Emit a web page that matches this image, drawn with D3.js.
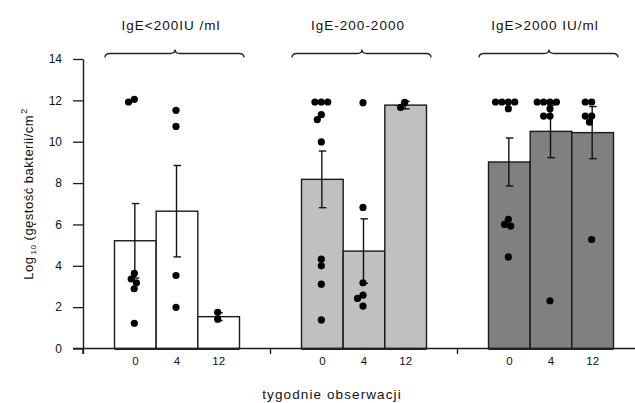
<!DOCTYPE html>
<html><head><meta charset="utf-8">
<script src="https://cdn.jsdelivr.net/npm/d3@7"></script>
<style>
body{margin:0;background:#fff}
svg{display:block}
text{font-family:"Liberation Sans",Arial,sans-serif;fill:#111}
</style>
</head><body>
<svg id="chart" width="635" height="403"></svg>
<script>
// ---------- data ----------
const groups = ["IgE<200IU /ml", "IgE-200-2000", "IgE>2000 IU/ml"];
const weeks = ["0", "4", "12"];
const yTicks = [0, 2, 4, 6, 8, 10, 12, 14];
const meansLow  = [5.21, 6.64, 1.54];
const meansMid  = [8.18, 4.71, 11.77];
const meansHigh = [9.02, 10.50, 10.44];
const semLow  = [1.80, 2.21, 0.19];
const semMid  = [1.37, 1.56, 0.18];
const semHigh = [1.16, 1.27, 1.26];
const pointsLow = [
  [12.05, 11.92, 3.63, 3.36, 3.18, 2.89, 1.22],
  [11.52, 10.74, 3.53, 1.99],
  [1.75, 1.42]
];
const pointsMid = [
  [11.92, 11.92, 11.92, 11.31, 11.07, 9.99, 4.32, 4.00, 3.11, 1.38],
  [11.89, 6.82, 3.18, 2.58, 2.42, 2.05],
  [11.90, 11.66]
];
const pointsHigh = [
  [11.92, 11.92, 11.92, 11.92, 11.60, 6.25, 6.00, 5.92, 4.43],
  [11.92, 11.92, 11.92, 11.92, 11.60, 11.24, 11.24, 2.31],
  [11.92, 11.92, 11.24, 11.24, 10.95, 5.27]
];
const xTitle = "tygodnie obserwacji";

const means = [meansLow, meansMid, meansHigh];
const sems = [semLow, semMid, semHigh];
const points = [pointsLow, pointsMid, pointsHigh];
const fills = ["#ffffff", "#c0c0c0", "#808080"];

// ---------- scales ----------
const svg = d3.select("#chart");
const x = d3.scaleBand().domain(groups).range([83.5, 644.5]).padding(0);
const xi = d3.scaleBand().domain(weeks).range([0, x.bandwidth()]).paddingInner(0).paddingOuter(0.744);
const y = d3.scaleLinear().domain([0, 14]).range([348.5, 59]);

const rows = [];
groups.forEach((g, gi) => weeks.forEach((w, wi) => rows.push({
  g, gi, w, wi, mean: means[gi][wi], sem: sems[gi][wi], pts: points[gi][wi]
})));

// ---------- bars ----------
svg.append("g").selectAll("rect").data(rows).join("rect")
  .attr("x", d => x(d.g) + xi(d.w))
  .attr("y", d => y(d.mean))
  .attr("width", xi.bandwidth())
  .attr("height", d => y(0) - y(d.mean))
  .attr("fill", d => fills[d.gi])
  .attr("stroke", "#1a1a1a")
  .attr("stroke-width", 1.4);

// ---------- axes ----------
const stroke = "#1a1a1a";
svg.append("line").attr("x1", 73).attr("x2", 635).attr("y1", y(0)).attr("y2", y(0))
  .attr("stroke", stroke).attr("stroke-width", 1.4);
svg.append("g").selectAll("line").data(rows).join("line")
  .attr("x1", d => x(d.g) + xi(d.w)).attr("x2", d => x(d.g) + xi(d.w) + xi.bandwidth())
  .attr("y1", y(0) + 0.5).attr("y2", y(0) + 0.5)
  .attr("stroke", "#222").attr("stroke-width", 2.2);
svg.append("g").selectAll("line").data(groups).join("line")
  .attr("x1", d => x(d)).attr("x2", d => x(d))
  .attr("y1", y(0)).attr("y2", y(0) + 5.5)
  .attr("stroke", stroke).attr("stroke-width", 1.3);

const yAxis = svg.append("g").attr("transform", `translate(${x.range()[0] - 0.5},0)`)
  .call(d3.axisLeft(y).tickValues(yTicks).tickSize(10).tickSizeOuter(0).tickPadding(11));
yAxis.select(".domain").attr("stroke", stroke).attr("stroke-width", 1.4);
yAxis.selectAll(".tick line").attr("stroke", stroke).attr("stroke-width", 1.3);
yAxis.selectAll("text").attr("font-size", 12).attr("fill", "#111")
  .attr("font-family", '"Liberation Sans",Arial,sans-serif');
svg.append("line").attr("x1", x.range()[0] - 0.5).attr("x2", x.range()[0] - 0.5)
  .attr("y1", y(0)).attr("y2", y(0) + 5.5).attr("stroke", stroke).attr("stroke-width", 1.4);

groups.forEach(g => {
  const ax = svg.append("g").attr("transform", `translate(${x(g)},${y(0)})`)
    .call(d3.axisBottom(xi).tickSize(0).tickPadding(8));
  ax.select(".domain").remove();
  ax.selectAll("text").attr("font-size", 11.5).attr("fill", "#111")
    .attr("font-family", '"Liberation Sans",Arial,sans-serif');
});

// ---------- error bars ----------
const eb = svg.append("g").attr("stroke", "#111").attr("stroke-width", 1.4);
rows.forEach(d => {
  const cx = x(d.g) + xi(d.w) + xi.bandwidth() / 2 - 0.5;
  const top = y(d.mean + d.sem), bot = y(d.mean - d.sem);
  eb.append("line").attr("x1", cx).attr("x2", cx).attr("y1", top).attr("y2", bot);
  eb.append("line").attr("x1", cx - 3).attr("x2", cx + 4.5).attr("y1", top).attr("y2", top);
  eb.append("line").attr("x1", cx - 3).attr("x2", cx + 4.5).attr("y1", bot).attr("y2", bot);
});

// ---------- dots (beeswarm placement) ----------
const R = 3.6, D = 6.4;
function swarm(vals) {
  const placed = [];
  vals.slice().sort((a, b) => b - a).forEach(v => {
    const yv = y(v);
    const cands = [0];
    placed.forEach(p => {
      const dy = Math.abs(p.y - yv);
      if (dy < D) { const dx = Math.sqrt(D * D - dy * dy); cands.push(p.x - dx, p.x + dx); }
    });
    cands.sort((a, b) => Math.abs(a) - Math.abs(b) || a - b);
    const c = cands.find(cx => placed.every(p => Math.hypot(p.x - cx, p.y - yv) >= D - 1e-6));
    placed.push({ x: c, y: yv });
  });
  return placed;
}
const dotG = svg.append("g").attr("fill", "#000");
rows.forEach(d => {
  const cx = x(d.g) + xi(d.w) + xi.bandwidth() / 2 - 1;
  swarm(d.pts).forEach(p => {
    dotG.append("circle").attr("cx", cx + p.x).attr("cy", p.y).attr("r", R);
  });
});

// ---------- braces + group titles ----------
const braceY = 53.5;
groups.forEach(g => {
  const c = x(g) + x.bandwidth() / 2;
  const x0 = c - 72, x1 = c + 67, xp = c - 2;
  const p = d3.path();
  p.moveTo(x0, braceY + 4);
  p.quadraticCurveTo(x0, braceY, x0 + 5, braceY);
  p.lineTo(xp - 5, braceY);
  p.quadraticCurveTo(xp, braceY, xp, braceY - 4);
  p.quadraticCurveTo(xp, braceY, xp + 5, braceY);
  p.lineTo(x1 - 5, braceY);
  p.quadraticCurveTo(x1, braceY, x1, braceY + 4);
  svg.append("path").attr("d", p.toString()).attr("fill", "none")
    .attr("stroke", "#222").attr("stroke-width", 1.3);
  svg.append("text").attr("x", c - 6).attr("y", 29.5).attr("text-anchor", "middle")
    .attr("font-size", 13.5).attr("letter-spacing", 1).text(g);
});

// ---------- axis titles ----------
svg.append("text").attr("x", 332).attr("y", 399).attr("text-anchor", "middle")
  .attr("font-size", 13.5).attr("letter-spacing", 1.1).text(xTitle);

const yl = svg.append("text").attr("transform", "translate(33,194) rotate(-90)")
  .attr("text-anchor", "middle").attr("font-size", 13).attr("letter-spacing", 0.5);
yl.append("tspan").text("Log");
yl.append("tspan").attr("font-size", 8).attr("dx", 2).attr("dy", 3).text("10");
yl.append("tspan").attr("dy", -3).text(" (gęstość bakterii/cm");
yl.append("tspan").attr("font-size", 9).attr("dx", 1).attr("dy", -6).text("2");
</script>
</body></html>
